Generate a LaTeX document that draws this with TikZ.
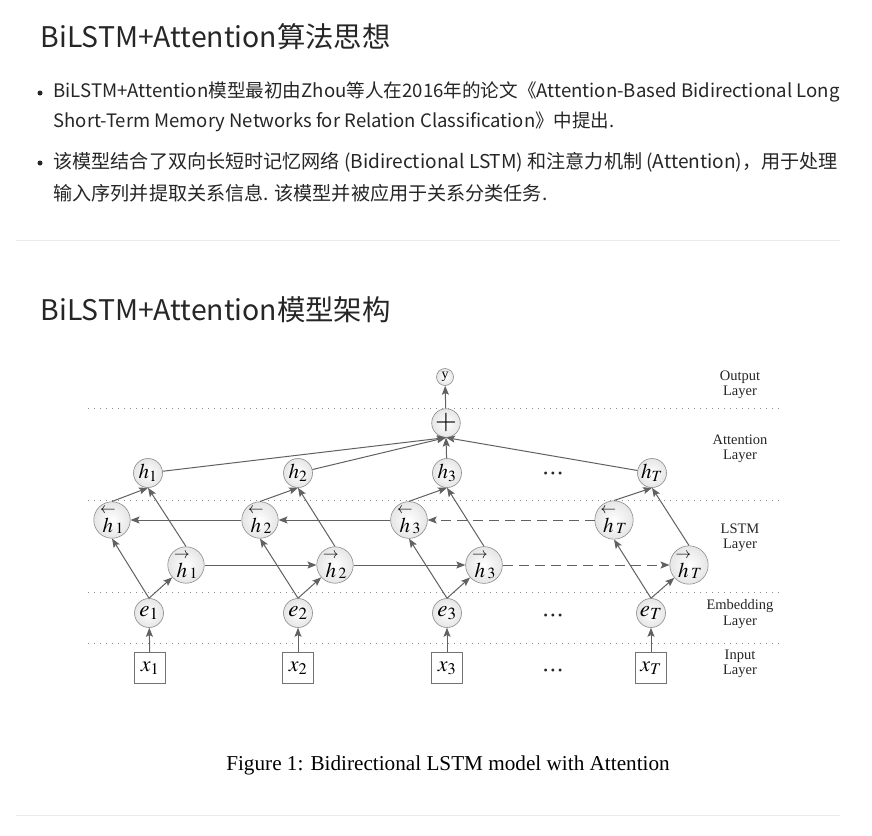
\documentclass[tikz,border=0pt]{standalone}
\usepackage{mathptmx}
\usepackage{fontspec}
\setmainfont{Liberation Serif}
\newfontfamily\cjk{Noto Sans CJK SC}
\usetikzlibrary{arrows.meta}
\begin{document}
\begin{tikzpicture}[x=1pt,y=-1pt,
  hnode/.style={circle,draw=black!45,line width=0.6pt,inner color=white,outer color=black!10,minimum size=29pt,inner sep=0pt,font=\fontsize{21}{21}\selectfont},
  snode/.style={hnode,minimum size=17pt,font=\fontsize{14}{14}\selectfont},
  pnode/.style={hnode,minimum size=21pt,font=\fontsize{28}{28}\selectfont},
  xbox/.style={draw=black!55,fill=white,minimum width=31pt,minimum height=31pt,inner sep=0pt,font=\fontsize{22}{22}\selectfont},
  arr/.style={draw=black!62,line width=1pt,-{Stealth[length=9pt,width=7pt,inset=1.8pt]}},
  darr/.style={arr,dash pattern=on 10pt off 6pt},
  sep/.style={draw=black!45,line width=0.9pt,dash pattern=on 0.9pt off 5.1pt},
  lbl/.style={align=center,font=\fontsize{14.5}{15.5}\selectfont,text=black!85},
  dots/.style={font=\fontsize{12}{12}\selectfont,text=black!85},
  head/.style={anchor=west,font=\cjk\fontsize{28.4}{28.4}\selectfont,text=black!85},
  btxt/.style={anchor=west,text=black!85},
  bdot/.style={circle,fill=black!85,inner sep=0pt,minimum size=5pt},
]
\useasboundingbox (0,0) rectangle (872,835);
\fill[white] (0,0) rectangle (872,835);

% ---- text header ----
\node[head] (t1) at (37,37) {BiLSTM+Attention算法思想};
\node[bdot] (d1) at (40,93) {};
\node[btxt,font=\cjk\fontsize{18.6}{18.6}\selectfont] (b1a) at (50,92) {BiLSTM+Attention模型最初由Zhou等人在2016年的论文《Attention-Based Bidirectional Long};
\node[btxt,font=\cjk\fontsize{18.5}{18.5}\selectfont] (b1b) at (50,122) {Short-Term Memory Networks for Relation Classification》中提出.};
\node[bdot] (d2) at (40,163) {};
\node[btxt,font=\cjk\fontsize{19.1}{19.1}\selectfont] (b2a) at (50,162) {该模型结合了双向长短时记忆网络 (Bidirectional LSTM) 和注意力机制 (Attention)，用于处理};
\node[btxt,font=\cjk\fontsize{19.1}{19.1}\selectfont] (b2b) at (50,193) {输入序列并提取关系信息. 该模型并被应用于关系分类任务.};
\draw[black!8,line width=1pt] (16,240) -- (840,240);
\node[head] (t2) at (37,310) {BiLSTM+Attention模型架构};

% ---- layer separators ----
\foreach \yy in {408,500,592,643} \draw[sep] (88,\yy) -- (783,\yy);

% ---- layer labels ----
\node[lbl] (lo) at (740,385) {Output\\Layer};
\node[lbl] (la) at (740,449) {Attention\\Layer};
\node[lbl] (ll) at (740,538) {LSTM\\Layer};
\node[lbl] (le) at (740,614) {Embedding\\Layer};
\node[lbl] (li) at (740,664) {Input\\Layer};

% ---- nodes ----
\node[snode] (y) at (445,377) {y};
\node[pnode] (p) at (446,423) {$+$};

\node[hnode] (h1) at (148,473) {$h_1$};
\node[hnode] (h2) at (298,473) {$h_2$};
\node[hnode] (h3) at (447,473) {$h_3$};
\node[hnode] (hT) at (652,473) {$h_T$};
\node[dots] (dA) at (553,475) {•\hspace{3pt}•\hspace{3pt}•};

\node[hnode] (b1) at (112,520) {$\stackrel{\leftarrow}{h}_1$};
\node[hnode] (b2) at (260,520) {$\stackrel{\leftarrow}{h}_2$};
\node[hnode] (b3) at (409,520) {$\stackrel{\leftarrow}{h}_3$};
\node[hnode] (bT) at (614,520) {$\stackrel{\leftarrow}{h}_T$};

\node[hnode] (f1) at (186,565) {$\stackrel{\rightarrow}{h}_1$};
\node[hnode] (f2) at (335,565) {$\stackrel{\rightarrow}{h}_2$};
\node[hnode] (f3) at (484,565) {$\stackrel{\rightarrow}{h}_3$};
\node[hnode] (fT) at (689,565) {$\stackrel{\rightarrow}{h}_T$};

\node[hnode,font=\fontsize{23}{23}\selectfont] (e1) at (149,613) {$e_1$};
\node[hnode,font=\fontsize{23}{23}\selectfont] (e2) at (298,613) {$e_2$};
\node[hnode,font=\fontsize{23}{23}\selectfont] (e3) at (447,613) {$e_3$};
\node[hnode,font=\fontsize{23}{23}\selectfont] (eT) at (651,613) {$e_T$};
\node[dots] (dE) at (553,617) {•\hspace{3pt}•\hspace{3pt}•};

\node[xbox] (x1) at (150,668) {$x_1$};
\node[xbox] (x2) at (298,668) {$x_2$};
\node[xbox] (x3) at (447,668) {$x_3$};
\node[xbox] (xT) at (651,668) {$x_T$};
\node[dots] (dX) at (553,672) {•\hspace{3pt}•\hspace{3pt}•};

% ---- connectors ----
\foreach \i in {1,2,3,T} {
  \draw[arr] (x\i) -- (e\i);
  \draw[arr] (e\i.north) -- (b\i.south);
  \draw[arr] (e\i.north) -- (f\i);
  \draw[arr] (b\i.north) -- (h\i.south);
  \draw[arr] (f\i.north) -- (h\i.south);
  \draw[arr] (h\i) -- (p.south);
}
\draw[arr] (b2) -- (b1);
\draw[arr] (b3) -- (b2);
\draw[darr] (bT) -- (b3);
\draw[arr] (f1) -- (f2);
\draw[arr] (f2) -- (f3);
\draw[darr] (f3) -- (fT);
\draw[arr] (p) -- (y);

% ---- caption ----
\node[font=\fontsize{21.2}{21.2}\selectfont] (cap) at (448,765) {Figure 1: Bidirectional LSTM model with Attention};
\draw[black!8,line width=1pt] (16,815) -- (840,815);
\end{tikzpicture}
\end{document}
